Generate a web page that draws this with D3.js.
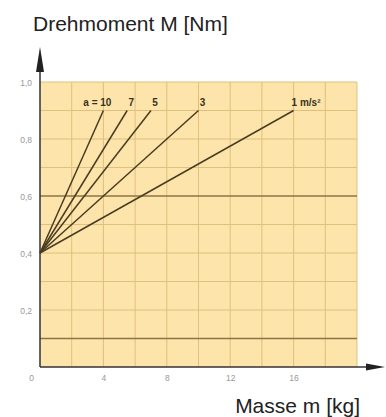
<!DOCTYPE html>
<html><head><meta charset="utf-8">
<script src="https://cdn.jsdelivr.net/npm/d3@7"></script>
<style>
html,body{margin:0;padding:0;background:#fff;}
svg{display:block;}
text{font-family:"Liberation Sans",Arial,sans-serif;}
</style></head>
<body>
<svg id="c" width="386" height="417"></svg>
<script>
// ---- data ----
const accelerations = [10, 7, 5, 3, 1];            // a in m/s²
const seriesLabels = ["a = 10", "7", "5", "3", "1 m/s²"];
const startMass = [0, 0, 0, 0, 0];                 // kg
const startTorque = [0.4, 0.4, 0.4, 0.4, 0.4];     // Nm
const endMass = [4.0, 5.5, 7.0, 10.0, 16.0];       // kg
const endTorque = [0.9, 0.9, 0.9, 0.9, 0.9];       // Nm
const xTicks = [0, 4, 8, 12, 16];
const yTicks = [0.2, 0.4, 0.6, 0.8, 1.0];
const xGrid = [2, 4, 6, 8, 10, 12, 14, 16, 18, 20];
const yGrid = [0.1, 0.2, 0.3, 0.4, 0.5, 0.6, 0.7, 0.8, 0.9, 1.0];
const yStrong = [0.1, 0.6];
const yTitle = "Drehmoment M [Nm]";
const xTitle = "Masse m [kg]";

// ---- layout ----
const svg = d3.select("#c");
const x = d3.scaleLinear().domain([0, 20]).range([40, 357]);
const y = d3.scaleLinear().domain([0, 1]).range([367, 82]);

// plot background
svg.append("rect")
  .attr("x", x(0)).attr("y", y(1))
  .attr("width", x(20) - x(0)).attr("height", y(0) - y(1))
  .attr("fill", "#fde4ab");

// grid
svg.append("g").selectAll("line").data(xGrid).join("line")
  .attr("x1", d => x(d)).attr("x2", d => x(d))
  .attr("y1", y(0)).attr("y2", y(1))
  .attr("stroke", "#d9b874").attr("stroke-width", 1).attr("opacity", 0.8);
svg.append("g").selectAll("line").data(yGrid).join("line")
  .attr("x1", x(0)).attr("x2", x(20))
  .attr("y1", d => y(d)).attr("y2", d => y(d))
  .attr("stroke", d => yStrong.includes(d) ? "#8c7448" : "#dfc07e")
  .attr("stroke-width", d => yStrong.includes(d) ? 1.4 : 1);

// axes
const xAxis = d3.axisBottom(x).tickValues(xTicks).tickSize(0).tickPadding(8)
  .tickFormat(d3.format("d"));
const gx = svg.append("g").attr("transform", `translate(0,${y(0)})`).call(xAxis);
gx.select(".domain").remove();
gx.selectAll("text").attr("fill", "#999999").attr("font-size", 8.5)
  .attr("dx", d => d === 0 ? -9 : 0);

const yAxis = d3.axisLeft(y).tickValues(yTicks).tickSize(0).tickPadding(8)
  .tickFormat(d => d3.format(".1f")(d).replace(".", ","));
const gy = svg.append("g").attr("transform", `translate(${x(0)},0)`).call(yAxis);
gy.select(".domain").remove();
gy.selectAll("text").attr("fill", "#999999").attr("font-size", 8.5).attr("dy", "0.45em");

// axis lines with arrows
svg.append("line").attr("x1", x(0)).attr("x2", x(0)).attr("y1", y(0)).attr("y2", 66)
  .attr("stroke", "#333").attr("stroke-width", 1.5);
svg.append("path")
  .attr("d", `M${x(0)},47 L${x(0) - 4},72 L${x(0) + 4},72 Z`).attr("fill", "#222");
svg.append("line").attr("x1", x(0)).attr("x2", 372).attr("y1", y(0)).attr("y2", y(0))
  .attr("stroke", "#333").attr("stroke-width", 1.5);
svg.append("path")
  .attr("d", `M385,${y(0)} L366,${y(0) - 3.5} L366,${y(0) + 3.5} Z`).attr("fill", "#222");

// series lines
const series = accelerations.map((a, i) => ({
  a, label: seriesLabels[i],
  pts: [[startMass[i], startTorque[i]], [endMass[i], endTorque[i]]]
}));
const line = d3.line().x(d => x(d[0])).y(d => y(d[1]));
svg.append("g").selectAll("path").data(series).join("path")
  .attr("d", d => line(d.pts)).attr("fill", "none")
  .attr("stroke", "#4a3c22").attr("stroke-width", 1.5);

// series labels
svg.append("g").selectAll("text").data(series).join("text")
  .attr("x", (d, i) => {
    const ex = x(d.pts[1][0]);
    if (i === 0) return ex + 8;
    if (i === series.length - 1) return ex - 2;
    return ex + 4;
  })
  .attr("y", d => y(d.pts[1][1]) - 5)
  .attr("text-anchor", (d, i) => i === 0 ? "end" : (i === series.length - 1 ? "start" : "middle"))
  .attr("font-size", 10).attr("font-weight", "bold").attr("fill", "#3a3222")
  .text(d => d.label);

// titles
svg.append("text").attr("x", 33).attr("y", 31).attr("font-size", 21)
  .attr("fill", "#222").text(yTitle);
svg.append("text").attr("x", 360).attr("y", 413).attr("text-anchor", "end")
  .attr("font-size", 21).attr("fill", "#222").text(xTitle);
</script>
</body></html>
